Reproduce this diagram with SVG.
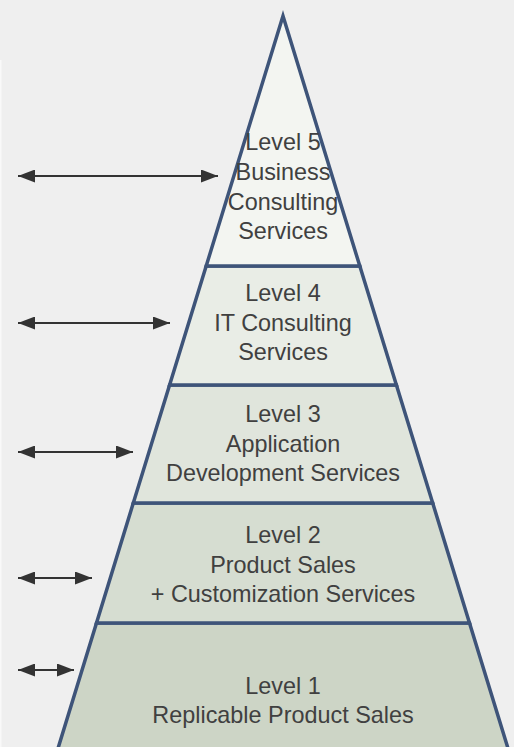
<svg xmlns="http://www.w3.org/2000/svg" width="514" height="747" viewBox="0 0 514 747">
<style>
.lvl{stroke:#3e5479;stroke-width:3.5;stroke-linejoin:miter}
.t{font-family:"Liberation Sans",Arial,sans-serif;font-size:23.4px;fill:#404040;text-anchor:middle}
.arr{stroke:#333;stroke-width:2;fill:none;marker-start:url(#ah);marker-end:url(#ah)}
</style>
<defs>
<marker id="ah" markerUnits="userSpaceOnUse" markerWidth="17" markerHeight="13" refX="17" refY="6.5" orient="auto-start-reverse">
<path d="M0,0 L17,6.5 L0,13 z" fill="#333"/>
</marker>
</defs>
<rect width="514" height="747" fill="#efefef"/>
<rect x="0" y="60" width="1.5" height="687" fill="#f9f9f9"/>
<g id="level1">
<polygon class="lvl" fill="#cdd5c6" points="96.5,623 469.5,623 508.5,750 57.5,750"/>
<text class="t" x="283" y="694">Level 1</text>
<text class="t" x="283" y="723">Replicable Product Sales</text>
</g>
<g id="level2">
<polygon class="lvl" fill="#d6ddd1" points="133.3,503 432.7,503 469.5,623 96.5,623"/>
<text class="t" x="283" y="543">Level 2</text>
<text class="t" x="283" y="573">Product Sales</text>
<text class="t" x="283" y="602">+ Customization Services</text>
</g>
<g id="level3">
<polygon class="lvl" fill="#e0e5dc" points="169.6,385 396.4,385 432.7,503 133.3,503"/>
<text class="t" x="283" y="422">Level 3</text>
<text class="t" x="283" y="452">Application</text>
<text class="t" x="283" y="481">Development Services</text>
</g>
<g id="level4">
<polygon class="lvl" fill="#e9ede6" points="206.2,266 359.8,266 396.4,385 169.6,385"/>
<text class="t" x="283" y="301">Level 4</text>
<text class="t" x="283" y="331">IT Consulting</text>
<text class="t" x="283" y="360">Services</text>
</g>
<g id="level5">
<polygon class="lvl" fill="#f3f5f1" points="283,16 359.8,266 206.2,266"/>
<text class="t" x="283" y="150">Level 5</text>
<text class="t" x="283" y="180">Business</text>
<text class="t" x="283" y="210">Consulting</text>
<text class="t" x="283" y="239">Services</text>
</g>
<g id="connectors">
<line class="arr" x1="18" y1="176" x2="218" y2="176"/>
<line class="arr" x1="18" y1="323" x2="170" y2="323"/>
<line class="arr" x1="18" y1="452" x2="133" y2="452"/>
<line class="arr" x1="18" y1="578" x2="92" y2="578"/>
<line class="arr" x1="18" y1="670" x2="74" y2="670"/>
</g>
</svg>
